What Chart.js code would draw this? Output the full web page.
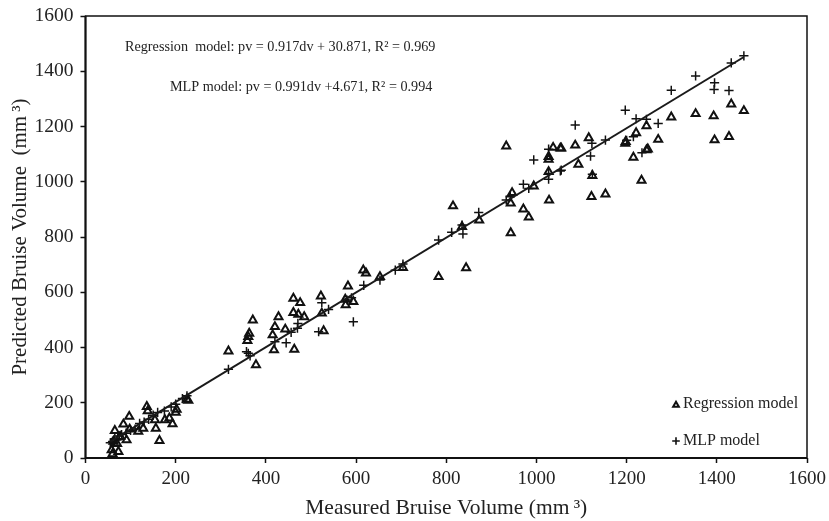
<!DOCTYPE html>
<html>
<head>
<meta charset="utf-8">
<script src="https://cdn.jsdelivr.net/npm/chart.js@4.4.1/dist/chart.umd.min.js"></script>
<style>
  html, body { margin: 0; padding: 0; background: #fff; }
  #wrap { width: 829px; height: 521px; position: relative; }
</style>
</head>
<body>
<div id="wrap"><canvas id="c" width="829" height="521"></canvas></div>
<script>
// Measured vs predicted bruise volume (mm³)
const regMeasured = [1432,1460,1393,1353,1299,1395,1427,1270,1247,1244,1215,1233,1244,1221,1197,1198,1116,1086,1055,1093,1124,1122,1153,
  933,1037,1053,1027,1027,1027,994,946,943,1028,971,983,943,815,873,835,844,783,704,653,
  622,616,582,594,576,577,522,524,461,476,461,472,428,485,420,443,415,363,361,359,371,317,378,418,463,528,
  225,228,202,200,193,186,176,154,156,164,136,138,97,84,65,98,77,58,60,73,70,128,117,91,62];
const regPredicted = [1281,1257,1238,1246,1234,1151,1163,1153,1118,1115,1088,1005,1202,1177,1139,1145,1159,1132,1121,1063,1022,946,955,
  1129,1124,1121,1091,1081,1036,984,960,922,933,901,872,815,912,861,837,688,656,689,656,
  669,680,622,566,574,554,586,524,578,562,526,520,511,511,475,466,445,451,439,425,499,387,337,391,393,460,
  212,208,176,165,123,144,138,138,107,63,186,170,150,122,99,104,77,29,15,23,52,107,96,65,60];

const mlpMeasured = [1460,1432,1353,1395,1394,1427,1299,1197,1221,1244,1270,1086,1153,1123,1200,1215,1120,1234,1055,1124,
  994,1027,1053,1027,1027,971,983,933,942,872,835,837,812,783,704,687,
  524,594,517,445,471,470,420,361,357,317,365,456,539,590,617,653,580,
  225,215,200,190,175,160,150,140,130,120,110,100,90,80,75,70,65,60,55];
const mlpPredicted = [1456,1430,1383,1358,1334,1330,1331,1259,1228,1226,1211,1205,1151,1139,1150,1163,1093,1105,1042,1027,
  1079,1118,1039,1009,1030,991,976,934,946,889,843,811,817,789,702,680,
  562,493,457,417,487,470,421,379,385,321,370,455,538,580,625,644,572,
  225,215,195,185,170,165,155,140,130,125,105,100,90,85,80,65,70,60,55];

// fitted relation printed on the chart: pv = 0.991dv + 4.671
const mlpSlope = 0.991, mlpIntercept = 4.671;
const fitRange = [55, 1460];

const xTicks = [0,200,400,600,800,1000,1200,1400,1600];
const yTicks = [0,200,400,600,800,1000,1200,1400,1600];

const toPts = (xs, ys) => xs.map((x, i) => ({ x: x, y: ys[i] }));
const fitPts = fitRange.map(x => ({ x: x, y: mlpSlope * x + mlpIntercept }));

const FONT = "'Liberation Serif', 'Times New Roman', serif";

const decor = {
  id: 'decor',
  afterDraw(chart) {
    const ctx = chart.ctx;
    const a = chart.chartArea;
    ctx.save();
    // frame around plot
    ctx.strokeStyle = '#111';
    ctx.lineWidth = 1.5;
    ctx.strokeRect(a.left, a.top, a.right - a.left, a.bottom - a.top);
    ctx.lineWidth = 2;
    ctx.beginPath();
    ctx.moveTo(a.left, a.top); ctx.lineTo(a.left, a.bottom); ctx.lineTo(a.right, a.bottom);
    ctx.stroke();

    // equations
    ctx.fillStyle = '#222';
    ctx.font = '14.2px ' + FONT;
    ctx.textBaseline = 'middle';
    ctx.textAlign = 'left';
    ctx.fillText('Regression  model: pv = 0.917dv + 30.871, R\u00B2 = 0.969', 125, 47);
    ctx.fillText('MLP model: pv = 0.991dv +4.671, R\u00B2 = 0.994', 170, 87);

    // legend
    ctx.font = '16px ' + FONT;
    ctx.fillText('Regression model', 683, 404);
    ctx.fillText('MLP model', 683, 441);
    ctx.strokeStyle = '#111';
    ctx.fillStyle = '#fff';
    Chart.helpers.drawPoint(ctx, { pointStyle: 'triangle', radius: 3.3, borderWidth: 1.8 }, 676, 405);
    ctx.lineWidth = 1.6;
    Chart.helpers.drawPoint(ctx, { pointStyle: 'cross', radius: 3.8, borderWidth: 1.6 }, 676, 441);
    ctx.restore();
  }
};

new Chart(document.getElementById('c'), {
  type: 'scatter',
  data: {
    datasets: [
      {
        label: 'MLP fit',
        type: 'line',
        data: fitPts,
        borderColor: '#1a1a1a',
        borderWidth: 2,
        pointRadius: 0,
        fill: false,
        order: 0
      },
      {
        label: 'Regression model',
        data: toPts(regMeasured, regPredicted),
        pointStyle: 'triangle',
        pointRadius: 4.6,
        borderColor: '#111',
        backgroundColor: 'rgba(255,255,255,0)',
        pointBorderWidth: 2,
        order: 2
      },
      {
        label: 'MLP model',
        data: toPts(mlpMeasured, mlpPredicted),
        pointStyle: 'cross',
        pointRadius: 4.6,
        borderColor: '#111',
        pointBorderWidth: 1.5,
        order: 1
      }
    ]
  },
  options: {
    responsive: false,
    animation: false,
    layout: { padding: { top: 16, right: 22, left: 0, bottom: 0 } },
    plugins: { legend: { display: false }, tooltip: { enabled: false } },
    scales: {
      x: {
        type: 'linear',
        min: 0, max: 1600,
        afterBuildTicks: s => { s.ticks = xTicks.map(v => ({ value: v })); },
        afterFit: s => { s.height = 63; s.paddingLeft = 0; s.paddingRight = 0; },
        grid: { drawOnChartArea: false, drawTicks: true, tickLength: 5, tickColor: '#111', tickWidth: 1.5 },
        border: { display: false },
        ticks: { color: '#222', font: { family: FONT, size: 19 }, padding: 5, maxRotation: 0, callback: v => String(v) },
        title: { display: true, text: 'Measured Bruise Volume (mm\u2009\u00B3)', color: '#222', font: { family: FONT, size: 21.5 }, padding: { top: 1, bottom: 0 } }
      },
      y: {
        type: 'linear',
        min: 0, max: 1600,
        afterBuildTicks: s => { s.ticks = yTicks.map(v => ({ value: v })); },
        afterFit: s => { s.width = 85.5; s.paddingTop = 0; s.paddingBottom = 0; },
        grid: { drawOnChartArea: false, drawTicks: true, tickLength: 5, tickColor: '#111', tickWidth: 1.5 },
        border: { display: false },
        ticks: { color: '#222', font: { family: FONT, size: 19.5 }, padding: 7, callback: v => String(v) },
        title: { display: true, text: 'Predicted Bruise Volume  (mm\u2009\u00B3)', color: '#222', font: { family: FONT, size: 21 }, padding: { top: 8, bottom: 0 } }
      }
    }
  },
  plugins: [decor]
});
</script>
</body>
</html>
